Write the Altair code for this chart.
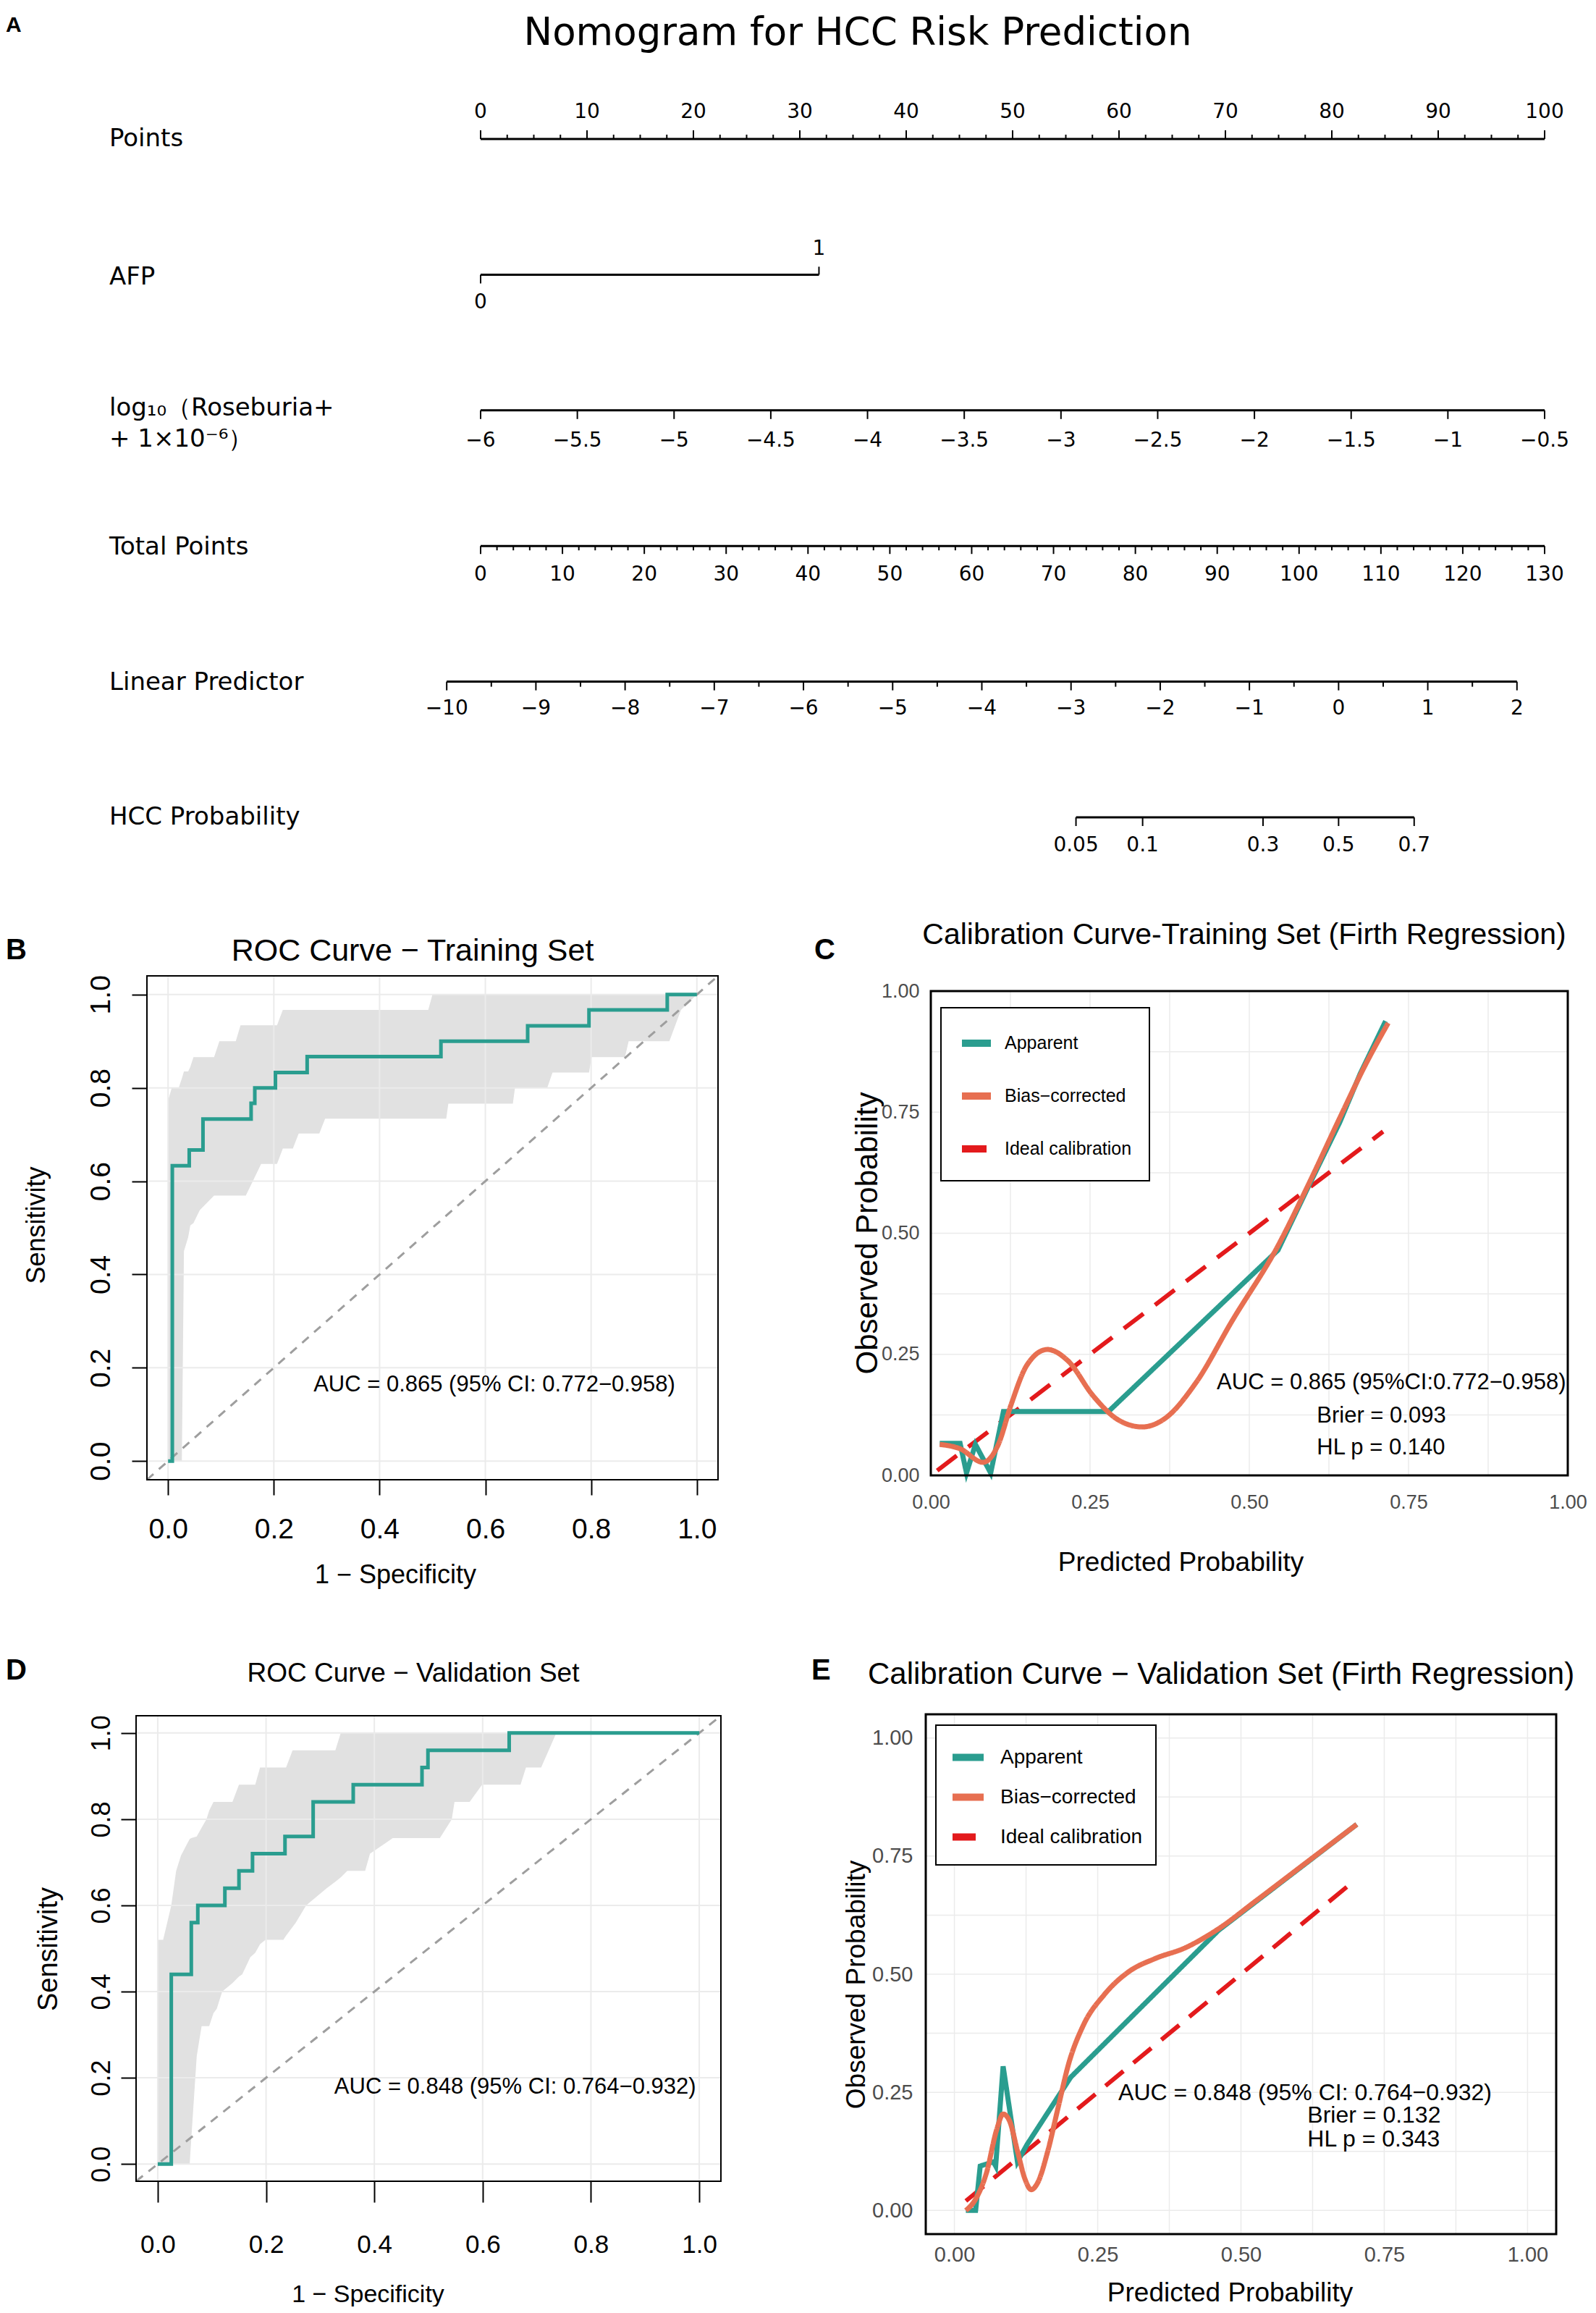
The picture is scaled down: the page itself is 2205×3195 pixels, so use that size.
import math
import altair as alt
import pandas as pd

# ---------------- colours & fonts ----------------
TEAL = "#2A9D8F"
ORANGE = "#E76F51"
RED = "#E31A1C"
GRID = "#EBEBEB"
BAND = "#E1E1E1"
DIAG = "#9E9E9E"
GRAYTXT = "#4D4D4D"
ARIAL = "Liberation Sans"
WIDE = "DejaVu Sans"

# ---------------- data: panel A (nomogram) ----------------
nomo_title = "Nomogram for HCC Risk Prediction"
row_names = ["Points", "AFP", "log₁₀（Roseburia+", "+ 1×10⁻⁶）",
             "Total Points", "Linear Predictor", "HCC Probability"]
points_labels = [0, 10, 20, 30, 40, 50, 60, 70, 80, 90, 100]
afp_levels = ["0", "1"]
afp_points = [0.0, 31.8]
roseburia_labels = [-6, -5.5, -5, -4.5, -4, -3.5, -3, -2.5, -2, -1.5, -1, -0.5]
total_labels = [0, 10, 20, 30, 40, 50, 60, 70, 80, 90, 100, 110, 120, 130]
lp_labels = [-10, -9, -8, -7, -6, -5, -4, -3, -2, -1, 0, 1, 2]
prob_labels = [0.05, 0.1, 0.3, 0.5, 0.7]
LP_AT_0, LP_AT_130 = -9.62, 2.31

# ---------------- data: panel B (ROC training) ----------------
roc_tr_fpr = [0.0, 0.008, 0.008, 0.040, 0.066, 0.157, 0.164, 0.203, 0.263, 0.516, 0.680, 0.796, 0.944, 1.0]
roc_tr_tpr = [0.0, 0.0, 0.633, 0.667, 0.733, 0.767, 0.800, 0.833, 0.867, 0.900, 0.933, 0.967, 1.0, 1.0]
band_tr_x = [0.000, 0.007, 0.020, 0.026, 0.030, 0.038, 0.042, 0.048, 0.060, 0.087, 0.097, 0.128, 0.137,
             0.147, 0.176, 0.206, 0.217, 0.236, 0.247, 0.286, 0.297, 0.492, 0.500, 0.526, 0.530, 0.652,
             0.656, 0.717, 0.727, 0.796, 0.801, 0.864, 0.871, 0.948, 0.970, 1.000]
band_tr_lo = [0.000, 0.000, 0.000, 0.000, 0.450, 0.480, 0.505, 0.510, 0.538, 0.569, 0.569, 0.569, 0.569,
              0.569, 0.637, 0.637, 0.670, 0.670, 0.702, 0.702, 0.734, 0.734, 0.734, 0.734, 0.766, 0.766,
              0.800, 0.800, 0.833, 0.833, 0.866, 0.866, 0.900, 0.900, 0.967, 1.000]
band_tr_hi = [0.773, 0.800, 0.800, 0.820, 0.835, 0.835, 0.845, 0.866, 0.866, 0.866, 0.900, 0.900, 0.934,
              0.934, 0.934, 0.934, 0.967, 0.967, 0.967, 0.967, 0.967, 0.967, 1.000, 1.000, 1.000, 1.000,
              1.000, 1.000, 1.000, 1.000, 1.000, 1.000, 1.000, 1.000, 1.000, 1.000]
auc_tr_text = "AUC = 0.865 (95% CI: 0.772−0.958)"

# ---------------- data: panel D (ROC validation) ----------------
roc_va_fpr = [0.0, 0.025, 0.062, 0.074, 0.124, 0.150, 0.175, 0.235, 0.287, 0.361, 0.488, 0.499, 0.649, 1.0]
roc_va_tpr = [0.0, 0.44, 0.56, 0.60, 0.64, 0.68, 0.72, 0.76, 0.84, 0.88, 0.92, 0.96, 1.0, 1.0]
band_va_x = [0.000, 0.010, 0.025, 0.034, 0.043, 0.059, 0.062, 0.072, 0.081, 0.090, 0.095, 0.103, 0.109,
             0.119, 0.138, 0.150, 0.156, 0.171, 0.180, 0.189, 0.199, 0.232, 0.237, 0.249, 0.255, 0.274,
             0.312, 0.328, 0.338, 0.350, 0.383, 0.392, 0.434, 0.521, 0.543, 0.548, 0.576, 0.599, 0.670,
             0.680, 0.708, 0.722, 0.736, 1.000]
band_va_lo = [0.000, 0.000, 0.000, 0.000, 0.000, 0.000, 0.060, 0.250, 0.320, 0.320, 0.320, 0.350, 0.360,
              0.400, 0.420, 0.435, 0.440, 0.480, 0.490, 0.510, 0.520, 0.520, 0.530, 0.550, 0.560, 0.600,
              0.640, 0.655, 0.665, 0.680, 0.680, 0.720, 0.756, 0.756, 0.800, 0.840, 0.840, 0.880, 0.880,
              0.920, 0.920, 0.960, 1.000, 1.000]
band_va_hi = [0.520, 0.520, 0.600, 0.680, 0.716, 0.754, 0.756, 0.760, 0.780, 0.800, 0.820, 0.840, 0.840,
              0.840, 0.840, 0.880, 0.880, 0.880, 0.880, 0.920, 0.920, 0.920, 0.920, 0.960, 0.960, 0.960,
              0.960, 0.960, 1.000, 1.000, 1.000, 1.000, 1.000, 1.000, 1.000, 1.000, 1.000, 1.000, 1.000,
              1.000, 1.000, 1.000, 1.000, 1.000]
auc_va_text = "AUC = 0.848 (95% CI: 0.764−0.932)"

# ---------------- data: panel C (calibration training) ----------------
SERIES = ["Apparent", "Bias−corrected", "Ideal calibration"]
cal_tr_app_x = [0.014, 0.046, 0.056, 0.070, 0.094, 0.114, 0.279, 0.545, 0.593, 0.642, 0.674, 0.714]
cal_tr_app_y = [0.066, 0.066, 0.005, 0.064, 0.005, 0.132, 0.132, 0.465, 0.597, 0.729, 0.829, 0.938]
cal_tr_bc_x = [0.014, 0.046, 0.082, 0.106, 0.126, 0.151, 0.183, 0.215, 0.255, 0.295, 0.332, 0.368,
               0.416, 0.473, 0.545, 0.593, 0.642, 0.682, 0.718]
cal_tr_bc_y = [0.064, 0.055, 0.027, 0.064, 0.146, 0.228, 0.260, 0.237, 0.164, 0.114, 0.100, 0.118,
               0.191, 0.319, 0.474, 0.601, 0.738, 0.847, 0.934]
cal_tr_ideal = [0.01, 0.71]
cal_tr_notes = ["AUC = 0.865 (95%CI:0.772−0.958)", "Brier = 0.093", "HL p = 0.140"]

# ---------------- data: panel E (calibration validation) ----------------
cal_va_app_x = [0.020, 0.037, 0.045, 0.068, 0.072, 0.085, 0.110, 0.127, 0.203, 0.461, 0.702]
cal_va_app_y = [0.000, 0.000, 0.094, 0.103, 0.094, 0.305, 0.103, 0.140, 0.282, 0.593, 0.817]
cal_va_bc_x = [0.020, 0.038, 0.056, 0.074, 0.085, 0.096, 0.110, 0.123, 0.134, 0.145, 0.163, 0.181,
               0.199, 0.225, 0.261, 0.305, 0.350, 0.403, 0.457, 0.528, 0.617, 0.702]
cal_va_bc_y = [0.000, 0.026, 0.080, 0.172, 0.204, 0.190, 0.126, 0.067, 0.044, 0.058, 0.126, 0.218,
               0.309, 0.392, 0.456, 0.506, 0.533, 0.556, 0.593, 0.657, 0.739, 0.817]
cal_va_ideal = [0.02, 0.70]
cal_va_notes = ["AUC = 0.848 (95% CI: 0.764−0.932)", "Brier = 0.132", "HL p = 0.343"]

# ================= canvas geometry (page pixels) =================
M = 8                      # page margin = origin of the plot area
W, H = 2185, 3172          # one shared plot area for the whole figure


def xdom(v1, p1, v2, p2):
    k = (p2 - p1) / (v2 - v1)
    return [v1 + (M - p1) / k, v1 + (M + W - p1) / k]


def ydom(v1, p1, v2, p2):
    k = (p2 - p1) / (v2 - v1)
    return [v1 + (M + H - p1) / k, v1 + (M - p1) / k]


def mfmt(v):
    return f"{v:g}".replace("-", "−")


def txt(text, px, py, font, size, weight="normal", align="left", baseline="alphabetic", color="black"):
    return alt.Chart(pd.DataFrame({"t": [text]})).mark_text(
        font=font, fontSize=size, fontWeight=weight, align=align, baseline=baseline, color=color
    ).encode(x=alt.value(px - M), y=alt.value(py - M), text="t:N")


# ================= Panel A =================
ROW_PX = 187.4
ROW0 = 192
A_XS = alt.Scale(domain=xdom(0, 664, 100, 2134), nice=False, zero=False)
A_YS = alt.Scale(domain=[(M - ROW0) / ROW_PX, (M + H - ROW0) / ROW_PX], reverse=True, nice=False, zero=False)


def rose_p(v):
    return (v + 6) / 5.5 * 100


def total_p(t):
    return t * 100 / 130


def lp_p(l):
    return (l - LP_AT_0) / (LP_AT_130 - LP_AT_0) * 100


def prob_p(q):
    return lp_p(math.log(q / (1 - q)))


lines = pd.DataFrame([
    dict(y=0, p0=0, p1=100),
    dict(y=1, p0=afp_points[0], p1=afp_points[1]),
    dict(y=2, p0=rose_p(roseburia_labels[0]), p1=rose_p(roseburia_labels[-1])),
    dict(y=3, p0=total_p(total_labels[0]), p1=total_p(total_labels[-1])),
    dict(y=4, p0=lp_p(lp_labels[0]), p1=lp_p(lp_labels[-1])),
    dict(y=5, p0=prob_p(prob_labels[0]), p1=prob_p(prob_labels[-1])),
])

ticks = []


def add_tick(p, row, px):
    ticks.append(dict(p=p, y=row, y2=row + px / ROW_PX))


for v in points_labels:
    add_tick(v, 0, -12)
for k in range(41):
    v = k * 2.5
    if v % 10:
        add_tick(v, 0, -6)
add_tick(afp_points[0], 1, 12)
add_tick(afp_points[1], 1, -11)
for v in roseburia_labels:
    add_tick(rose_p(v), 2, 12)
for t in range(0, 131, 2):
    add_tick(total_p(t), 3, 11 if t % 10 == 0 else 6)
for k in range(25):
    add_tick(lp_p(-10 + k * 0.5), 4, 12 if k % 2 == 0 else 7)
for q in prob_labels:
    add_tick(prob_p(q), 5, 12)
ticks = pd.DataFrame(ticks)

labs = []


def add_lab(p, row, px, text):
    labs.append(dict(p=p, y=row + px / ROW_PX, t=text))


for v in points_labels:
    add_lab(v, 0, -37, str(v))
add_lab(afp_points[0], 1, 39, afp_levels[0])
add_lab(afp_points[1], 1, -35, afp_levels[1])
for v in roseburia_labels:
    add_lab(rose_p(v), 2, 42, mfmt(v))
for t in total_labels:
    add_lab(total_p(t), 3, 40, str(t))
for l in lp_labels:
    add_lab(lp_p(l), 4, 37, mfmt(l))
for q in prob_labels:
    add_lab(prob_p(q), 5, 39, f"{q:g}")
labs = pd.DataFrame(labs)

names = pd.DataFrame({"name": row_names, "y": [0.0, 1.02, 1.984, 2.213, 3.01, 4.005, 5.0]})


def AXx(f):
    return alt.X(f, type="quantitative", scale=A_XS, axis=None)


def AXy(f):
    return alt.Y(f, type="quantitative", scale=A_YS, axis=None)


panelA = alt.layer(
    alt.Chart(lines).mark_rule(color="black", strokeWidth=3).encode(x=AXx("p0"), x2="p1:Q", y=AXy("y")),
    alt.Chart(ticks).mark_rule(color="black", strokeWidth=2).encode(x=AXx("p"), y=AXy("y"), y2="y2:Q"),
    alt.Chart(labs).mark_text(font=WIDE, fontSize=28, align="center", baseline="middle", color="black").encode(
        x=AXx("p"), y=AXy("y"), text="t:N"),
    alt.Chart(names).mark_text(font=WIDE, fontSize=34, align="left", baseline="middle", color="black").encode(
        x=alt.value(151 - M), y=AXy("y"), text="name:N"),
    txt(nomo_title, 1185, 62, WIDE, 53, align="center"),
    txt("A", 8, 44, ARIAL, 30, weight="bold"),
)


# ================= ROC panels =================
def roc_panel(fpr, tpr, bx, blo, bhi, auc_text, auc_xy, auc_size, frame, xaxis_kw, yaxis_kw,
              title, title_xy, title_size, letter, letter_xy):
    fl, fr, ft, fb = frame
    xs = alt.Scale(domain=xdom(-0.04, fl, 1.04, fr), nice=False, zero=False)
    ys = alt.Scale(domain=ydom(-0.04, fb, 1.04, ft), nice=False, zero=False)
    vals = [0, 0.2, 0.4, 0.6, 0.8, 1.0]
    xaxis = alt.Axis(values=vals, format=".1f", grid=False, domain=False, ticks=True, tickWidth=2,
                     tickColor="black", labelColor="black", labelBaseline="alphabetic", labelAlign="center",
                     labelFlush=False, labelOverlap=False, orient="bottom", offset=fb - (M + H),
                     title="1 − Specificity", titleFontWeight="normal", titleColor="black",
                     titleAlign="center", titleBaseline="alphabetic", **xaxis_kw)
    yaxis = alt.Axis(values=vals, format=".1f", grid=False, domain=False, ticks=True, tickWidth=2,
                     tickColor="black", labelColor="black", labelAngle=270, labelBaseline="alphabetic",
                     labelAlign="center", labelFlush=False, labelOverlap=False, orient="left",
                     offset=M - fl, title="Sensitivity", titleFontWeight="normal", titleColor="black",
                     titleAngle=270, titleAlign="center", titleBaseline="alphabetic", **yaxis_kw)

    def X(f):
        return alt.X(f, type="quantitative", scale=xs, axis=xaxis)

    def Y(f):
        return alt.Y(f, type="quantitative", scale=ys, axis=yaxis)

    band = alt.Chart(pd.DataFrame({"x": bx, "lo": blo, "hi": bhi})).mark_area(
        color=BAND, opacity=1).encode(x=X("x"), y=Y("lo"), y2="hi:Q")
    gdf = pd.DataFrame({"g": vals, "a": -0.04, "b": 1.04})
    gx = alt.Chart(gdf).mark_rule(color=GRID, strokeWidth=2).encode(x=X("g"), y=Y("a"), y2="b:Q")
    gy = alt.Chart(gdf).mark_rule(color=GRID, strokeWidth=2).encode(y=Y("g"), x=X("a"), x2="b:Q")
    diag = alt.Chart(pd.DataFrame({"d": [-0.04, 1.04]})).mark_line(
        color=DIAG, strokeDash=[12, 10], strokeWidth=3).encode(x=X("d"), y=Y("d"))
    roc = alt.Chart(pd.DataFrame({"fpr": fpr, "tpr": tpr, "i": list(range(len(fpr)))})).mark_line(
        color=TEAL, strokeWidth=5, interpolate="step-after").encode(x=X("fpr"), y=Y("tpr"), order="i:Q")
    auc = alt.Chart(pd.DataFrame({"x": [auc_xy[0]], "y": [auc_xy[1]], "t": [auc_text]})).mark_text(
        font=ARIAL, fontSize=auc_size, align="left", baseline="middle", color="black").encode(
        x=X("x"), y=Y("y"), text="t:N")
    box = alt.Chart(pd.DataFrame({"a": [-0.04], "b": [1.04]})).mark_rect(
        fillOpacity=0, stroke="black", strokeWidth=2).encode(x=X("a"), x2="b:Q", y=Y("a"), y2="b:Q")
    return alt.layer(
        band, gx, gy, diag, roc, auc, box,
        txt(title, title_xy[0], title_xy[1], ARIAL, title_size, align="center"),
        txt(letter, letter_xy[0], letter_xy[1], ARIAL, 40, weight="bold"),
    )


panelB = roc_panel(
    roc_tr_fpr, roc_tr_tpr, band_tr_x, band_tr_lo, band_tr_hi, auc_tr_text, (0.275, 0.163), 31,
    (203, 992, 1348, 2044),
    dict(labelFont=ARIAL, labelFontSize=39, labelPadding=59, tickSize=21, titleFont=ARIAL,
         titleFontSize=36, titleX=546 - M, titleY=142),
    dict(labelFont=ARIAL, labelFontSize=39, labelPadding=31, tickSize=21, titleFont=ARIAL,
         titleFontSize=36, titleX=-142, titleY=1692 - M),
    "ROC Curve − Training Set", (570, 1327), 43, "B", (8, 1325))

panelD = roc_panel(
    roc_va_fpr, roc_va_tpr, band_va_x, band_va_lo, band_va_hi, auc_va_text, (0.326, 0.178), 31,
    (188, 996, 2370, 3013),
    dict(labelFont=ARIAL, labelFontSize=35, labelPadding=69, tickSize=29, titleFont=ARIAL,
         titleFontSize=34, titleX=508 - M, titleY=166),
    dict(labelFont=ARIAL, labelFontSize=36, labelPadding=16, tickSize=21, titleFont=ARIAL,
         titleFontSize=38, titleX=-110, titleY=2692 - M),
    "ROC Curve − Validation Set", (571, 2323), 37, "D", (8, 2320))

# ================= Calibration panels =================
EIGHTHS = [0, 0.125, 0.25, 0.375, 0.5, 0.625, 0.75, 0.875, 1.0]
LABEXPR = "(datum.value * 8) % 2 == 0 ? format(datum.value, '.2f') : ''"


def calib_panel(app_x, app_y, bc_x, bc_y, ideal, notes, note_pos, dom, frame, lab_size,
                xpad, ypad, xt_size, xt_xy, yt_size, yt_xy, leg, note_size,
                title, title_xy, title_size, title_align, letter, letter_xy, dash):
    fl, fr, ft, fb = frame
    xs = alt.Scale(domain=xdom(dom[0], fl, dom[1], fr), nice=False, zero=False)
    ys = alt.Scale(domain=ydom(dom[0], fb, dom[1], ft), nice=False, zero=False)
    common = dict(values=EIGHTHS, labelExpr=LABEXPR, grid=False, domain=False, ticks=False, tickSize=0,
                  labelFont=ARIAL, labelFontSize=lab_size, labelColor=GRAYTXT, labelFlush=False,
                  labelOverlap=False, titleFont=ARIAL, titleFontWeight="normal", titleColor="black",
                  titleAlign="center", titleBaseline="alphabetic")
    xaxis = alt.Axis(orient="bottom", offset=fb - (M + H), labelBaseline="alphabetic", labelAlign="center",
                     labelPadding=xpad, title="Predicted Probability", titleFontSize=xt_size,
                     titleX=xt_xy[0], titleY=xt_xy[1], **common)
    yaxis = alt.Axis(orient="left", offset=M - fl, labelBaseline="middle", labelAlign="right",
                     labelPadding=ypad, title="Observed Probability", titleFontSize=yt_size, titleAngle=270,
                     titleX=yt_xy[0], titleY=yt_xy[1], **common)

    def X(f):
        return alt.X(f, type="quantitative", scale=xs, axis=xaxis)

    def Y(f):
        return alt.Y(f, type="quantitative", scale=ys, axis=yaxis)

    gdf = pd.DataFrame({"g": EIGHTHS, "a": dom[0], "b": dom[1]})
    gx = alt.Chart(gdf).mark_rule(color=GRID, strokeWidth=1.5).encode(x=X("g"), y=Y("a"), y2="b:Q")
    gy = alt.Chart(gdf).mark_rule(color=GRID, strokeWidth=1.5).encode(y=Y("g"), x=X("a"), x2="b:Q")

    color = alt.Color("s:N", scale=alt.Scale(domain=SERIES, range=[TEAL, ORANGE, RED]), legend=leg)
    sdash = alt.StrokeDash("s:N", scale=alt.Scale(domain=SERIES, range=[[1, 0], [1, 0], dash]), legend=leg)

    ideal_l = alt.Chart(pd.DataFrame({"x": ideal, "y": ideal, "s": [SERIES[2]] * 2})).mark_line(
        strokeWidth=6).encode(x=X("x"), y=Y("y"), color=color, strokeDash=sdash)
    app_l = alt.Chart(pd.DataFrame({"x": app_x, "y": app_y, "s": [SERIES[0]] * len(app_x)})).mark_line(
        strokeWidth=7).encode(x=X("x"), y=Y("y"), color=color, strokeDash=sdash)
    bc_l = alt.Chart(pd.DataFrame({"x": bc_x, "y": bc_y, "s": [SERIES[1]] * len(bc_x)})).mark_line(
        strokeWidth=7, interpolate="monotone").encode(x=X("x"), y=Y("y"), color=color, strokeDash=sdash)
    note_df = pd.DataFrame({"x": [p[0] for p in note_pos], "y": [p[1] for p in note_pos], "t": notes})
    note_l = alt.Chart(note_df).mark_text(font=ARIAL, fontSize=note_size, align="left",
                                          baseline="alphabetic", color="black").encode(
        x=X("x"), y=Y("y"), text="t:N")
    box = alt.Chart(pd.DataFrame({"a": [dom[0]], "b": [dom[1]]})).mark_rect(
        fillOpacity=0, stroke="black", strokeWidth=3).encode(x=X("a"), x2="b:Q", y=Y("a"), y2="b:Q")
    return alt.layer(
        gx, gy, ideal_l, app_l, bc_l, note_l, box,
        txt(title, title_xy[0], title_xy[1], ARIAL, title_size, align=title_align),
        txt(letter, letter_xy[0], letter_xy[1], ARIAL, 40, weight="bold"),
    )


legC = alt.Legend(title=None, orient="none", legendX=1300 - M, legendY=1392 - M, symbolType="stroke",
                  symbolSize=1600, symbolStrokeWidth=10, labelFont=ARIAL, labelFontSize=25,
                  labelColor="black", labelOffset=14, rowPadding=28, padding=24, strokeColor="black",
                  fillColor="white", labelLimit=500)
legE = alt.Legend(title=None, orient="none", legendX=1293 - M, legendY=2383 - M, symbolType="stroke",
                  symbolSize=1849, symbolStrokeWidth=10, labelFont=ARIAL, labelFontSize=28,
                  labelColor="black", labelOffset=18, rowPadding=8, padding=18, strokeColor="black",
                  fillColor="white", labelLimit=500)

panelC = calib_panel(cal_tr_app_x, cal_tr_app_y, cal_tr_bc_x, cal_tr_bc_y, cal_tr_ideal, cal_tr_notes,
                     [(0.449, 0.178), (0.606, 0.109), (0.606, 0.044)], [0, 1], (1286, 2166, 1369, 2038),
                     27, 45, 16, 37, (1631 - M, 131), 42, (-75, 1703 - M), legC, 31,
                     "Calibration Curve-Training Set (Firth Regression)", (1719, 1304), 41, "center",
                     "C", (1125, 1325), [34, 20])

panelE = calib_panel(cal_va_app_x, cal_va_app_y, cal_va_bc_x, cal_va_bc_y, cal_va_ideal, cal_va_notes,
                     [(0.286, 0.234), (0.616, 0.186), (0.616, 0.135)], [-0.05, 1.05], (1279, 2150, 2368, 3086),
                     29, 37, 18, 37, (1699 - M, 92), 37, (-85, 2741 - M), legE, 32,
                     "Calibration Curve − Validation Set (Firth Regression)", (1199, 2326), 42, "left",
                     "E", (1121, 2320), [32, 18])

chart = alt.layer(panelA, panelB, panelC, panelD, panelE).resolve_scale(
    x="independent", y="independent", color="independent", strokeDash="independent"
).properties(width=W, height=H, padding=0, background="white").configure_view(
    strokeWidth=0).configure_legend(strokeWidth=2)

chart.save("out.html", embed_options={"renderer": "svg", "actions": False})
